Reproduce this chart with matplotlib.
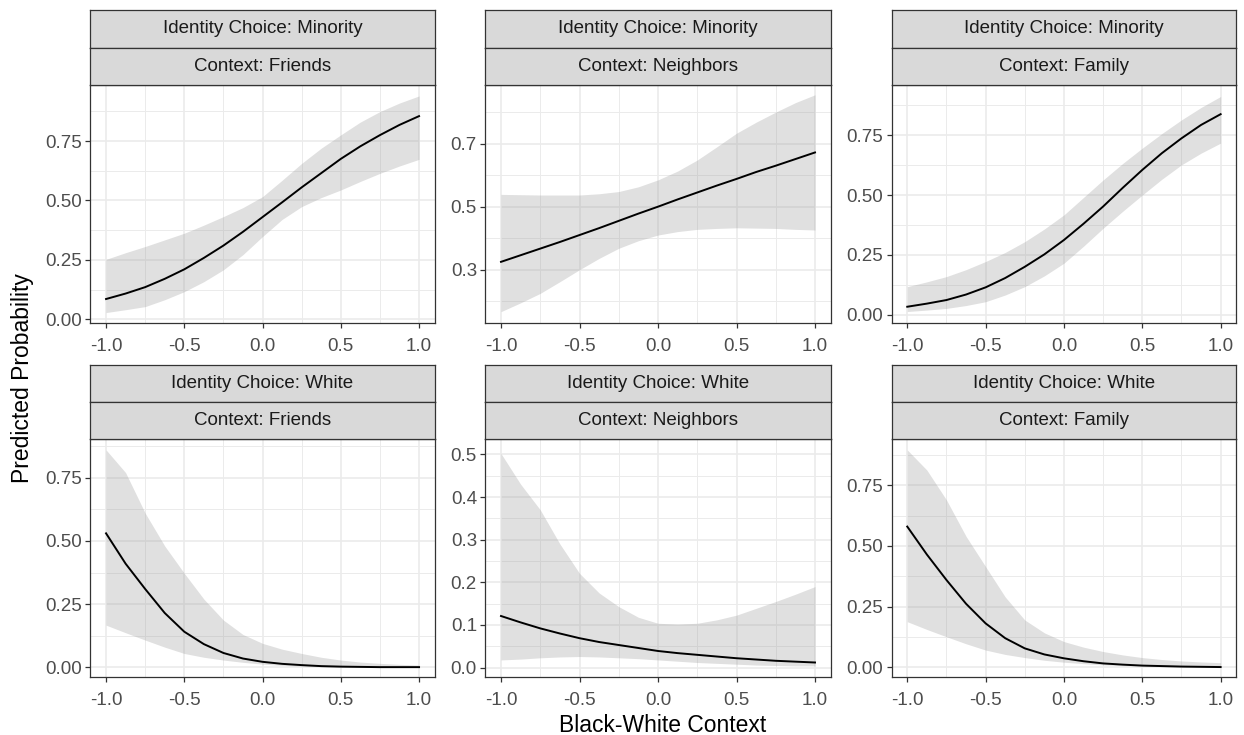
import matplotlib
matplotlib.use("Agg")
import matplotlib.pyplot as plt
import numpy as np
from matplotlib.ticker import FixedLocator

plt.rcParams['font.family'] = ['Liberation Sans', 'DejaVu Sans']

# ---------------- data ----------------
x = [-1.0, -0.875, -0.75, -0.625, -0.5, -0.375, -0.25, -0.125, 0.0,
     0.125, 0.25, 0.375, 0.5, 0.625, 0.75, 0.875, 1.0]

identity_labels = ["Identity Choice: Minority", "Identity Choice: White"]
context_labels = ["Context: Friends", "Context: Neighbors", "Context: Family"]

# Minority / Friends
min_friends_fit = [0.085, 0.108, 0.135, 0.170, 0.210, 0.258, 0.310, 0.368, 0.430,
                   0.492, 0.555, 0.615, 0.675, 0.728, 0.775, 0.818, 0.855]
min_friends_lo  = [0.028, 0.040, 0.053, 0.082, 0.116, 0.158, 0.208, 0.272, 0.348,
                   0.420, 0.474, 0.512, 0.544, 0.580, 0.614, 0.645, 0.673]
min_friends_hi  = [0.252, 0.280, 0.306, 0.334, 0.362, 0.396, 0.432, 0.470, 0.516,
                   0.585, 0.656, 0.720, 0.776, 0.830, 0.874, 0.910, 0.940]

# Minority / Neighbors
min_neigh_fit = [0.325, 0.346, 0.367, 0.388, 0.410, 0.432, 0.455, 0.478, 0.500,
                 0.523, 0.545, 0.567, 0.588, 0.610, 0.630, 0.651, 0.672]
min_neigh_lo  = [0.167, 0.195, 0.225, 0.262, 0.300, 0.336, 0.368, 0.392, 0.410,
                 0.421, 0.428, 0.431, 0.433, 0.432, 0.431, 0.428, 0.426]
min_neigh_hi  = [0.539, 0.538, 0.537, 0.537, 0.537, 0.541, 0.548, 0.563, 0.585,
                 0.613, 0.648, 0.690, 0.733, 0.768, 0.800, 0.830, 0.855]

# Minority / Family
min_family_fit = [0.033, 0.046, 0.061, 0.084, 0.114, 0.153, 0.200, 0.252, 0.312,
                  0.380, 0.452, 0.530, 0.605, 0.675, 0.737, 0.793, 0.838]
min_family_lo  = [0.013, 0.019, 0.026, 0.038, 0.054, 0.082, 0.117, 0.162, 0.215,
                  0.286, 0.361, 0.432, 0.500, 0.566, 0.626, 0.675, 0.717]
min_family_hi  = [0.117, 0.137, 0.159, 0.188, 0.222, 0.260, 0.305, 0.358, 0.417,
                  0.490, 0.563, 0.632, 0.696, 0.757, 0.814, 0.866, 0.912]

# White / Friends
wht_friends_fit = [0.530, 0.410, 0.310, 0.215, 0.141, 0.092, 0.057, 0.035, 0.022,
                   0.014, 0.009, 0.005, 0.003, 0.002, 0.001, 0.001, 0.001]
wht_friends_lo  = [0.167, 0.137, 0.108, 0.080, 0.055, 0.040, 0.029, 0.020, 0.013,
                   0.008, 0.005, 0.003, 0.002, 0.001, 0.001, 0.000, 0.000]
wht_friends_hi  = [0.860, 0.770, 0.610, 0.480, 0.372, 0.270, 0.187, 0.130, 0.095,
                   0.072, 0.055, 0.040, 0.029, 0.021, 0.016, 0.012, 0.009]

# White / Neighbors
wht_neigh_fit = [0.121, 0.106, 0.092, 0.080, 0.069, 0.060, 0.053, 0.046, 0.039,
                 0.034, 0.030, 0.026, 0.022, 0.019, 0.016, 0.014, 0.012]
wht_neigh_lo  = [0.018, 0.020, 0.023, 0.025, 0.026, 0.025, 0.023, 0.021, 0.018,
                 0.015, 0.012, 0.010, 0.008, 0.006, 0.005, 0.004, 0.004]
wht_neigh_hi  = [0.502, 0.430, 0.370, 0.290, 0.221, 0.175, 0.143, 0.118, 0.104,
                 0.102, 0.104, 0.112, 0.123, 0.139, 0.155, 0.172, 0.190]

# White / Family
wht_family_fit = [0.580, 0.465, 0.360, 0.262, 0.181, 0.120, 0.078, 0.053, 0.037,
                  0.025, 0.016, 0.011, 0.007, 0.005, 0.003, 0.002, 0.001]
wht_family_lo  = [0.188, 0.156, 0.126, 0.097, 0.071, 0.053, 0.040, 0.029, 0.021,
                  0.015, 0.010, 0.007, 0.005, 0.003, 0.002, 0.001, 0.001]
wht_family_hi  = [0.896, 0.813, 0.690, 0.540, 0.415, 0.290, 0.195, 0.142, 0.106,
                  0.083, 0.065, 0.051, 0.040, 0.032, 0.026, 0.022, 0.019]

panels = [
    [(min_friends_fit, min_friends_lo, min_friends_hi),
     (min_neigh_fit, min_neigh_lo, min_neigh_hi),
     (min_family_fit, min_family_lo, min_family_hi)],
    [(wht_friends_fit, wht_friends_lo, wht_friends_hi),
     (wht_neigh_fit, wht_neigh_lo, wht_neigh_hi),
     (wht_family_fit, wht_family_lo, wht_family_hi)],
]

x_ticks = [-1.0, -0.5, 0.0, 0.5, 1.0]
x_tick_labels = ["-1.0", "-0.5", "0.0", "0.5", "1.0"]
y_ticks = [
    [[0.00, 0.25, 0.50, 0.75], [0.3, 0.5, 0.7], [0.00, 0.25, 0.50, 0.75]],
    [[0.00, 0.25, 0.50, 0.75], [0.0, 0.1, 0.2, 0.3, 0.4, 0.5], [0.00, 0.25, 0.50, 0.75]],
]
y_fmt = [["{:.2f}", "{:.1f}", "{:.2f}"], ["{:.2f}", "{:.1f}", "{:.2f}"]]
y_lims = [
    [(-0.016, 0.986), (0.131, 0.886), (-0.035, 0.960)],
    [(-0.038, 0.903), (-0.022, 0.536), (-0.040, 0.941)],
]

# ---------------- layout ----------------
W, H = 1244, 735
fig = plt.figure(figsize=(W / 100, H / 100), dpi=100)
fig.patch.set_facecolor("white")

col_lr = [(90.4, 434.7), (485.3, 830.7), (891.6, 1236.3)]
row_tb = [(85, 323), (439, 677)]
strip_rows = [[(10, 47.5), (47.5, 85)], [(365, 402), (402, 439)]]

border_col = "#333333"
grid_col = "#EBEBEB"

def frac(l, r, t, b):
    return [l / W, 1 - b / H, (r - l) / W, (b - t) / H]

for ri in range(2):
    for ci in range(3):
        l, r = col_lr[ci]
        t, b = row_tb[ri]
        ax = fig.add_axes(frac(l, r, t, b))
        fit, lo, hi = panels[ri][ci]
        ax.fill_between(x, lo, hi, color="#999999", alpha=0.3, linewidth=0, zorder=2)
        ax.plot(x, fit, color="black", linewidth=1.4, zorder=3)
        ax.set_xlim(-1.1, 1.1)
        ax.set_ylim(*y_lims[ri][ci])
        yt = y_ticks[ri][ci]
        ax.yaxis.set_major_locator(FixedLocator(yt))
        ax.set_yticklabels([y_fmt[ri][ci].format(v) for v in yt])
        step = yt[1] - yt[0]
        minors = [v - step / 2 for v in yt] + [yt[-1] + step / 2]
        ax.yaxis.set_minor_locator(FixedLocator(minors))
        ax.xaxis.set_major_locator(FixedLocator(x_ticks))
        ax.set_xticklabels(x_tick_labels)
        ax.xaxis.set_minor_locator(FixedLocator([-0.75, -0.25, 0.25, 0.75]))
        ax.grid(which="major", color=grid_col, linewidth=1.2, zorder=0)
        ax.grid(which="minor", color=grid_col, linewidth=0.7, zorder=0)
        ax.set_axisbelow(True)
        for s in ax.spines.values():
            s.set_color(border_col)
            s.set_linewidth(0.9)
        ax.tick_params(which="major", direction="out", length=3.5, width=0.9,
                       color=border_col, labelcolor="#4D4D4D", labelsize=13.5)
        ax.tick_params(axis="y", which="major", pad=2.5)
        ax.tick_params(axis="x", which="major", pad=7.0)
        ax.tick_params(which="minor", length=0)
        # strips
        for si, (st, sb) in enumerate(strip_rows[ri]):
            sax = fig.add_axes(frac(l, r, st, sb))
            sax.set_facecolor("#D9D9D9")
            sax.set_xticks([])
            sax.set_yticks([])
            for s in sax.spines.values():
                s.set_color(border_col)
                s.set_linewidth(0.9)
            label = identity_labels[ri] if si == 0 else context_labels[ci]
            sax.text(0.5, 0.5, label, ha="center", va="center", fontsize=13.5,
                     color="#1A1A1A", transform=sax.transAxes)

fig.text(22.5 / W, 1 - 378 / H, "Predicted Probability", rotation=90, ha="center",
         va="center", fontsize=16.5, color="black")
fig.text(663 / W, 1 - 725 / H, "Black-White Context", ha="center", va="center",
         fontsize=16.5, color="black")

fig.savefig("out.png", dpi=100, facecolor="white")
